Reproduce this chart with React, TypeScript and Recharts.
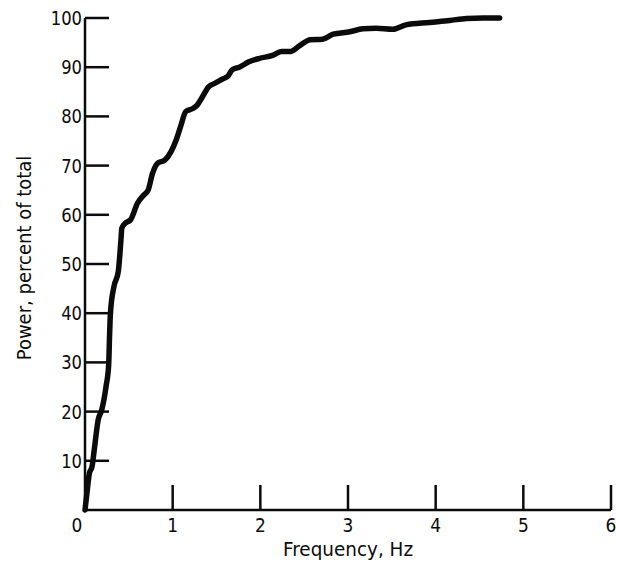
import React from 'react';
import { LineChart, Line, XAxis, YAxis } from 'recharts';

const frequencyHz = [
  0, 0.03, 0.05, 0.08, 0.11, 0.15, 0.19, 0.24, 0.27, 0.28, 0.29, 0.33, 0.38, 0.41, 0.42,
  0.46, 0.52, 0.6, 0.67, 0.72, 0.77, 0.83, 0.91, 0.98, 1.04, 1.09, 1.15, 1.23, 1.28, 1.34,
  1.41, 1.49, 1.57, 1.63, 1.68, 1.76, 1.87, 1.99, 2.14, 2.24, 2.34, 2.45, 2.57, 2.71, 2.83,
  3.02, 3.17, 3.32, 3.51, 3.66, 3.93, 4.16, 4.35, 4.54, 4.73,
];
const powerPercent = [
  0, 4.7, 7.5, 8.8, 12.9, 18.3, 20.3, 25.1, 29.5, 35.3, 40, 45.4, 48.5, 54.9, 57.3,
  58.3, 59, 62.4, 64, 65, 68.4, 70.5, 71.1, 72.8, 75.2, 77.9, 81, 81.6, 82.3, 84,
  86, 86.8, 87.6, 88.2, 89.5, 90, 91.1, 91.8, 92.4, 93.2, 93.2, 94.4, 95.6, 95.7, 96.7,
  97.2, 97.8, 97.9, 97.7, 98.6, 99.1, 99.5, 99.9, 100, 100,
];
const xTicks = [0, 1, 2, 3, 4, 5, 6];
const yTicks = [10, 20, 30, 40, 50, 60, 70, 80, 90, 100];
const xTitle = 'Frequency, Hz';
const yTitle = 'Power, percent of total';

const data = frequencyHz.map((f, i) => ({ f, p: powerPercent[i] }));

const FONT = '"DejaVu Sans", "Liberation Sans", sans-serif';
const INK = '#0b0b0b';

// condensed text: horizontally squeezed real text
const CText = ({ x, y, anchor, sx, rotate, children }: any) => (
  <g transform={`translate(${x} ${y})${rotate ? ` rotate(${rotate})` : ''} scale(${sx} 1)`}>
    <text x={0} y={0} textAnchor={anchor} fontFamily={FONT} fontSize={20} fill={INK}>
      {children}
    </text>
  </g>
);

const XTick = (props: any) => {
  const { x, y, payload } = props;
  const v = payload.value;
  return (
    <g>
      {v > 0 && <line x1={x} y1={y} x2={x} y2={y - 25} stroke={INK} strokeWidth={2.5} />}
      <CText x={v === 0 ? x - 8 : x} y={y + 22} anchor="middle" sx={0.85}>
        {v}
      </CText>
    </g>
  );
};

const YTick = (props: any) => {
  const { x, y, payload } = props;
  return (
    <g>
      <line x1={x} y1={y} x2={x + 24} y2={y} stroke={INK} strokeWidth={2.5} />
      <CText x={x - 3} y={y + 7} anchor="end" sx={0.82}>
        {payload.value}
      </CText>
    </g>
  );
};

export default function App() {
  return (
    <div style={{ position: 'absolute', left: 0, top: 0, background: '#fff' }}>
      <LineChart width={617} height={563} data={data} margin={{ top: 18, right: 6, bottom: 0, left: 0 }}>
        <XAxis
          dataKey="f"
          type="number"
          domain={[0, 6]}
          ticks={xTicks}
          interval={0}
          tickLine={false}
          tickSize={0}
          tickMargin={0}
          height={53}
          axisLine={{ stroke: INK, strokeWidth: 2.5 }}
          tick={<XTick />}
          label={{
            content: (p: any) => {
              const vb = p.viewBox;
              return (
                <CText x={vb.x + vb.width / 2} y={vb.y + 46} anchor="middle" sx={0.92}>
                  {xTitle}
                </CText>
              );
            },
          }}
        />
        <YAxis
          type="number"
          domain={[0, 100]}
          ticks={yTicks}
          interval={0}
          tickLine={false}
          tickSize={0}
          tickMargin={0}
          width={85}
          axisLine={{ stroke: INK, strokeWidth: 2.5 }}
          tick={<YTick />}
          label={{
            content: (p: any) => {
              const vb = p.viewBox;
              return (
                <CText x={vb.x + 31} y={vb.y + vb.height / 2 - 6} anchor="middle" sx={0.9} rotate={-90}>
                  {yTitle}
                </CText>
              );
            },
          }}
        />
        <Line
          type="monotone"
          dataKey="p"
          stroke={INK}
          strokeWidth={5.5}
          strokeLinejoin="round"
          strokeLinecap="round"
          dot={false}
          isAnimationActive={false}
        />
      </LineChart>
    </div>
  );
}
